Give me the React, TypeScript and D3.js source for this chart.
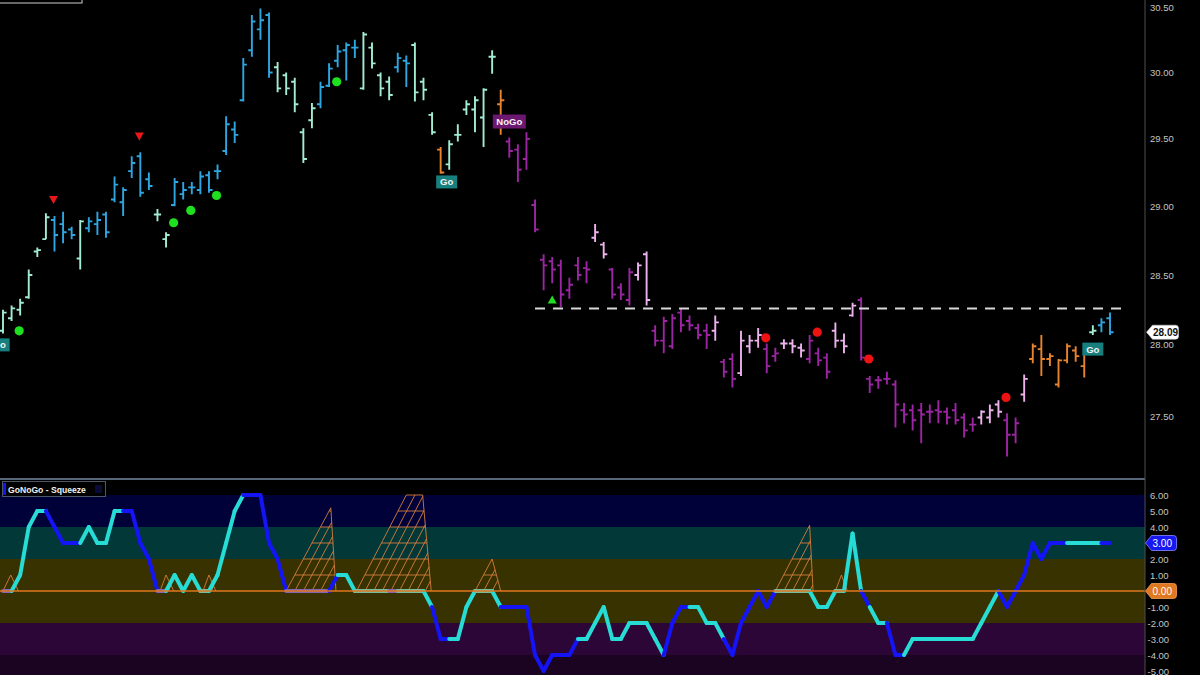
import React from 'react';
import * as d3 from 'd3';

// ---------- price bars (OHLC) ----------
const opens = [28.10,28.19,28.25,28.34,28.67,28.76,28.90,28.87,28.83,28.62,28.84,28.87,28.94,29.05,29.03,29.26,29.37,29.20,28.94,28.76,
29.01,29.09,29.14,29.12,29.23,29.26,29.41,29.57,29.79,30.17,30.33,30.44,30.04,29.98,29.93,29.55,29.64,29.76,29.90,30.09,
30.17,30.19,29.88,30.19,29.98,29.93,30.04,30.09,30.21,29.93,29.68,29.42,29.31,29.53,29.72,29.72,29.66,30.12,29.76,29.48,
29.42,29.35,29.01,28.61,28.60,28.57,28.39,28.57,28.55,28.77,28.72,28.54,28.41,28.32,28.50,28.65,28.10,28.03,27.99,28.23,
28.17,28.12,28.10,28.10,27.88,27.90,27.80,27.99,28.03,27.97,27.92,28.01,28.01,27.98,27.90,27.94,27.91,28.10,28.03,28.21,
28.32,27.76,27.75,27.76,27.72,27.54,27.54,27.54,27.53,27.54,27.53,27.54,27.49,27.44,27.49,27.49,27.58,27.47,27.37,27.65,
27.90,27.97,27.90,27.72,27.89,27.96,27.85,28.09,28.14,28.19];
const highs = [28.25,28.28,28.33,28.54,28.70,28.95,28.93,28.96,28.85,28.90,28.92,28.96,28.96,29.22,29.14,29.37,29.40,29.25,28.98,28.81,
29.21,29.18,29.18,29.26,29.26,29.31,29.67,29.63,30.11,30.44,30.49,30.46,30.08,30.00,29.96,29.58,29.77,29.93,30.07,30.21,
30.23,30.25,30.31,30.23,30.00,29.97,30.15,30.13,30.23,29.96,29.70,29.44,29.49,29.61,29.79,29.82,29.88,30.17,29.87,29.51,
29.46,29.55,29.05,28.65,28.63,28.61,28.48,28.63,28.60,28.87,28.74,28.55,28.44,28.55,28.59,28.67,28.14,28.20,28.22,28.26,
28.21,28.15,28.15,28.21,27.90,27.94,28.10,28.07,28.12,28.01,27.98,28.04,28.04,28.01,28.07,27.98,27.94,28.16,28.08,28.30,
28.34,27.78,27.78,27.81,27.75,27.59,27.58,27.59,27.58,27.61,27.56,27.59,27.52,27.49,27.54,27.58,27.61,27.52,27.49,27.79,
28.01,28.07,27.94,27.90,28.01,27.99,27.98,28.14,28.19,28.23];
const lows = [28.08,28.17,28.21,28.33,28.63,28.76,28.67,28.73,28.76,28.54,28.81,28.79,28.77,29.03,28.93,29.21,29.07,29.12,28.89,28.70,
29.00,29.05,29.09,29.09,29.10,29.20,29.38,29.47,29.78,30.12,30.25,29.96,29.85,29.83,29.70,29.32,29.58,29.73,29.89,30.04,
29.94,30.11,29.87,30.03,29.82,29.79,30.00,29.89,29.78,29.79,29.53,29.24,29.27,29.48,29.68,29.55,29.44,29.99,29.53,29.36,
29.18,29.27,28.81,28.39,28.44,28.27,28.33,28.46,28.44,28.74,28.62,28.33,28.32,28.28,28.46,28.28,27.99,27.94,27.97,28.09,
28.10,28.04,27.97,28.03,27.77,27.70,27.78,27.94,27.98,27.80,27.88,27.97,27.94,27.91,27.87,27.85,27.76,27.98,27.94,28.20,
27.89,27.66,27.69,27.72,27.42,27.45,27.40,27.31,27.45,27.45,27.44,27.44,27.35,27.39,27.44,27.45,27.49,27.22,27.31,27.60,
27.87,27.78,27.85,27.70,27.87,27.88,27.77,28.07,28.09,28.07];
const closes = [28.23,28.26,28.30,28.50,28.68,28.92,28.79,28.81,28.79,28.89,28.89,28.90,28.81,29.16,29.12,29.32,29.10,29.15,28.94,28.79,
29.18,29.12,29.14,29.22,29.12,29.26,29.61,29.53,30.06,30.39,30.40,30.00,29.88,29.88,29.76,29.35,29.73,29.89,30.03,30.16,
30.21,30.19,30.29,30.07,29.88,29.83,30.11,30.07,29.85,29.87,29.55,29.25,29.46,29.53,29.76,29.79,29.87,30.12,29.79,29.41,
29.27,29.50,28.83,28.57,28.54,28.36,28.43,28.50,28.54,28.81,28.65,28.36,28.36,28.52,28.57,28.32,28.03,28.17,28.19,28.14,
28.14,28.07,28.07,28.16,27.81,27.76,28.03,28.03,28.07,27.85,27.94,28.01,27.99,27.96,28.03,27.89,27.81,28.03,27.99,28.28,
27.91,27.72,27.75,27.76,27.58,27.51,27.47,27.51,27.53,27.53,27.49,27.47,27.40,27.44,27.53,27.54,27.53,27.37,27.45,27.76,
27.99,27.90,27.92,27.89,27.99,27.92,27.96,28.10,28.16,28.09];
// trend state of each bar: B strong Go, A weak Go, O neutral, P strong NoGo, K weak NoGo
const barTrend = ('AAAAAA' + 'BBB' + 'A' + 'BBBBBBBB' + 'AA' + 'BBBBBBBBBBBB' + 'AAAAA' + 'BBBBB' + 'AAAA' + 'BB' + 'AAA' + 'O' +
  'AAAAAA' + 'O' + 'PPPPPPPPPP' + 'KK' + 'PPP' + 'KK' + 'PPPPPPP' + 'K' + 'PP' + 'KKK' + 'PP' + 'KKK' + 'PPP' + 'KKK' +
  'PPPPPPPPPPPPPP' + 'KKK' + 'PP' + 'K' + 'OOOOOOO' + 'A' + 'BB').split('');

const priceTicks = [27.5, 28, 28.5, 29, 29.5, 30, 30.5];
const lastPrice = 28.09;
const resistance = { price: 28.26, from: 62, to: 131.1 };

// markers
const redTriIdx = [6, 16];
const redTriPrice = [29.05, 29.52];
const greenTriIdx = [64];
const greenTriPrice = [28.32];
const greenDotIdx = [2, 20, 22, 25, 39];
const greenDotPrice = [28.10, 28.88, 28.97, 29.08, 29.93];
const redDotIdx = [89, 95, 101, 117];
const redDotPrice = [28.05, 28.09, 27.90, 27.63];
const labelIdx = [-0.45, 51.7, 59, 127];
const labelPrice = [28.0, 29.18, 29.63, 27.97];
const labelText = ['Go', 'Go', 'NoGo', 'Go'];

// ---------- oscillator ----------
const osc = [0,0,1,4,5,5,4,3,3,3,4,3,3,5,5,5,3,2,0,0,
1,0,1,0,0,1,3,5,6,6,6,3,2,0,0,0,0,0,0,1,
1,0,0,0,0,0,0,0,0,0,-1,-3,-3,-3,-1,0,0,0,-1,-1,
-1,-1,-4,-5,-4,-4,-4,-3,-3,-2,-1,-3,-3,-2,-2,-2,-3,-4,-2,-1,
-1,-1,-2,-2,-3,-4,-2,-1,0,-1,0,0,0,0,0,-1,-1,0,0,3.6,
0,-1,-2,-2,-4,-4,-3,-3,-3,-3,-3,-3,-3,-3,-2,-1,0,-1,0,1,
3,2,3,3,3,3,3,3,3,3];
// colour of each segment i -> i+1: b strong, c weak, g/p squeeze at zero
const oscSeg = ('p' + 'cccc' + 'bbbb' + 'ccccc' + 'bbbb' + 'p' + 'cccc' + 'g' + 'cccc' + 'bbbbb' + 'ppppp' + 'b' + 'cc' +
  'gggg' + 'p' + 'ggg' + 'c' + 'bb' + 'ccc' + 'gg' + 'c' + 'bbbbbbbbb' + 'cccccccccc' + 'bbb' + 'cccc' + 'bbbbbb' +
  'gggg' + 'ccc' + 'g' + 'cc' + 'b' + 'cc' + 'bb' + 'ccccccccccc' + 'bbbbbbbb' + 'cccc' + 'b').split('');
const oscTicks = [6, 5, 4, 3, 2, 1, 0, -1, -2, -3, -4, -5];
const bandLo = [4, 2, -2, -4, -7];
const bandHi = [6, 4, 2, -2, -4];
const bandColor = ['#01013a', '#033839', '#383200', '#2c0636', '#1b0322'];
const lastOsc = 3;

// squeeze ladders: base-left, top-left, top-right, base-right (bar idx) and height
const sqLeft = [0, 18.3, 23.3, 33, 41.2, 55, 90, 97];
const sqTopL = [0.9, 19, 24, 38.2, 47, 57, 94, 97.7];
const sqTopR = [0.9, 19, 24, 38.2, 48.9, 57, 94, 97.7];
const sqRight = [1.8, 19.9, 24.8, 38.8, 49.9, 58, 94.4, 98.4];
const sqLevel = [1, 1, 1, 5.2, 6, 2, 4.1, 1];

const trendColor: Record<string, string> = { B: '#2ea6e2', A: '#a2ecd2', O: '#e8832e', P: '#9c25a4', K: '#ecb2ec' };
const segColor: Record<string, string> = { b: '#1414f5', c: '#28dcd6', g: '#78bca0', p: '#8466b4' };

const FONT = '"Liberation Sans", Arial, Helvetica, sans-serif';

export default function App() {
  const PR = 1145; // right edge of plot
  const x = d3.scaleLinear().domain([0, 129]).range([3, 1110]);
  const yP = d3.scaleLog().domain([27.5, 30.5]).range([416, 7.3]);
  const yO = d3.scaleLinear().domain([-5, 6]).range([671, 495]);
  const tick = 3.6;

  const bars = opens.map((o, i) => {
    const xi = x(i);
    const p = d3.path();
    p.moveTo(xi, yP(highs[i]));
    p.lineTo(xi, yP(lows[i]));
    p.moveTo(xi - tick, yP(o));
    p.lineTo(xi, yP(o));
    p.moveTo(xi, yP(closes[i]));
    p.lineTo(xi + tick, yP(closes[i]));
    return <path key={'b' + i} d={p.toString()} stroke={trendColor[barTrend[i]]} strokeWidth={1.9} fill="none" />;
  });

  // squeeze ladders
  const ladders: JSX.Element[] = [];
  sqLeft.forEach((l, r) => {
    const k = sqLevel[r];
    const xl = x(l), xt1 = x(sqTopL[r]), xt2 = x(sqTopR[r]), xr = x(sqRight[r]);
    const y0 = yO(0);
    const dxl = (xt1 - xl) / k;
    const dxr = (xr - xt2) / k;
    const p = d3.path();
    p.moveTo(xl, y0); p.lineTo(xt1, yO(k)); p.lineTo(xt2, yO(k)); p.lineTo(xr, y0);
    for (let L = 1; L < k; L++) {
      p.moveTo(xl + L * dxl, yO(L));
      p.lineTo(xr - L * dxr, yO(L));
    }
    const step = x(1) - x(0);
    for (let s = xl + step; s < xr - 1; s += step) {
      let Lend = (xr - s) / (dxl + dxr);
      if (Lend > k) Lend = k;
      p.moveTo(s, y0);
      p.lineTo(s + Lend * dxl, yO(Lend));
    }
    ladders.push(<path key={'sq' + r} d={p.toString()} stroke="#d47e3c" strokeWidth={0.9} fill="none" />);
  });

  const oscLines = oscSeg.map((c, i) => (
    <line key={'o' + i} x1={x(i)} y1={yO(osc[i])} x2={x(i + 1)} y2={yO(osc[i + 1])}
      stroke={segColor[c]} strokeWidth={4} strokeLinecap="round" />
  ));

  const tri = (cx: number, cy: number, up: boolean) => {
    const s = 4.5;
    return up
      ? `M${cx},${cy - s} L${cx + s},${cy + s * 0.8} L${cx - s},${cy + s * 0.8} Z`
      : `M${cx - s},${cy - s * 0.8} L${cx + s},${cy - s * 0.8} L${cx},${cy + s} Z`;
  };

  const tagPath = (x0: number, yc: number, w: number, h: number) => {
    const r = 3;
    return `M${x0},${yc} L${x0 + 6},${yc - h / 2} L${x0 + w - r},${yc - h / 2} Q${x0 + w},${yc - h / 2} ${x0 + w},${yc - h / 2 + r} L${x0 + w},${yc + h / 2 - r} Q${x0 + w},${yc + h / 2} ${x0 + w - r},${yc + h / 2} L${x0 + 6},${yc + h / 2} Z`;
  };

  return (
    <svg width={1200} height={675} style={{ position: 'absolute', left: 0, top: 0, background: '#000', display: 'block' }}
      fontFamily={FONT}>
      <rect x={0} y={0} width={1200} height={675} fill="#000" />
      {/* top-left legend stub */}
      <rect x={-1} y={-10} width={83} height={13} fill="none" stroke="#cfcfcf" strokeWidth={1} />

      {/* oscillator bands */}
      {bandLo.map((lo, i) => (
        <rect key={'band' + i} x={0} y={yO(bandHi[i])} width={PR} height={Math.min(675, yO(lo)) - yO(bandHi[i])} fill={bandColor[i]} />
      ))}

      {/* price bars */}
      {bars}

      {/* resistance dashed line */}
      <line x1={x(resistance.from)} x2={x(resistance.to)} y1={yP(resistance.price)} y2={yP(resistance.price)}
        stroke="#d8d8d8" strokeWidth={2} strokeDasharray="10,8" />

      {/* markers */}
      {redTriIdx.map((ix, k) => <path key={'rt' + k} d={tri(x(ix) - 1, yP(redTriPrice[k]), false)} fill="#e81818" />)}
      {greenTriIdx.map((ix, k) => <path key={'gt' + k} d={tri(x(ix), yP(greenTriPrice[k]), true)} fill="#22dd22" />)}
      {greenDotIdx.map((ix, k) => <circle key={'gd' + k} cx={x(ix) - 1} cy={yP(greenDotPrice[k])} r={4.6} fill="#1fe01f" />)}
      {redDotIdx.map((ix, k) => <circle key={'rd' + k} cx={x(ix) - 1} cy={yP(redDotPrice[k])} r={4.6} fill="#ee1212" />)}

      {/* Go / NoGo labels */}
      {labelIdx.map((ix, k) => {
        const t = labelText[k];
        const w = t === 'NoGo' ? 33 : 21;
        const h = t === 'NoGo' ? 14 : 13;
        const cx = x(ix), cy = yP(labelPrice[k]);
        return (
          <g key={'lb' + k}>
            <rect x={cx - w / 2} y={cy - h / 2} width={w} height={h} fill={t === 'NoGo' ? '#6c1770' : '#17807f'} />
            <text x={cx} y={cy + 3.5} textAnchor="middle" fontSize={9.5} fontWeight="bold" fill="#f4f4f4">{t}</text>
          </g>
        );
      })}

      {/* squeeze ladders */}
      {ladders}
      {/* oscillator */}
      {oscLines}
      {/* zero line */}
      <line x1={0} x2={PR} y1={yO(0)} y2={yO(0)} stroke="#e0761e" strokeWidth={1.6} />

      {/* pane divider and axis line */}
      <line x1={0} x2={PR} y1={479} y2={479} stroke="#56677a" strokeWidth={2} />
      <line x1={PR} x2={PR} y1={0} y2={675} stroke="#4e4e4e" strokeWidth={1} />

      {/* oscillator title */}
      <rect x={2.5} y={481.5} width={103} height={15} fill="#000" stroke="#4b5866" strokeWidth={1} />
      <rect x={3} y={483} width={3} height={12} fill="#1414f5" />
      <rect x={95} y={485} width={7} height={8} fill="#0b0b3a" />
      <text x={8} y={492.5} fontSize={8.6} fontWeight="bold" fill="#f0f0f0">GoNoGo - Squeeze</text>

      {/* price axis labels */}
      {priceTicks.map((p) => (
        <text key={'pt' + p} x={1150} y={yP(p) + 3.5} fontSize={9.5} fill="#c4c4c4">{p.toFixed(2)}</text>
      ))}
      {/* oscillator axis labels (values shown in tags are not repeated) */}
      {oscTicks.filter((v) => v !== lastOsc && v !== 0).map((v) => (
        <text key={'ot' + v} x={v < 0 ? 1147.5 : 1150} y={yO(v) + 3.5} fontSize={9.5} fill="#c4c4c4">{v.toFixed(2)}</text>
      ))}

      {/* last value tags */}
      <path d={tagPath(1146.5, yP(lastPrice), 32, 14)} fill="#ffffff" stroke="#cccccc" strokeWidth={0.6} />
      <text x={1153} y={yP(lastPrice) + 3.6} fontSize={10} fontWeight="bold" fill="#111">{lastPrice.toFixed(2)}</text>
      <path d={tagPath(1145.5, yO(lastOsc), 31, 15)} fill="#1818f0" stroke="#8a8aff" strokeWidth={0.8} />
      <text x={1152.5} y={yO(lastOsc) + 3.6} fontSize={10} fill="#ffffff">{lastOsc.toFixed(2)}</text>
      <path d={tagPath(1145.5, yO(0), 31, 15)} fill="#e0781f" stroke="#f0a060" strokeWidth={0.8} />
      <text x={1152.5} y={yO(0) + 3.6} fontSize={10} fill="#ffffff">0.00</text>
    </svg>
  );
}
